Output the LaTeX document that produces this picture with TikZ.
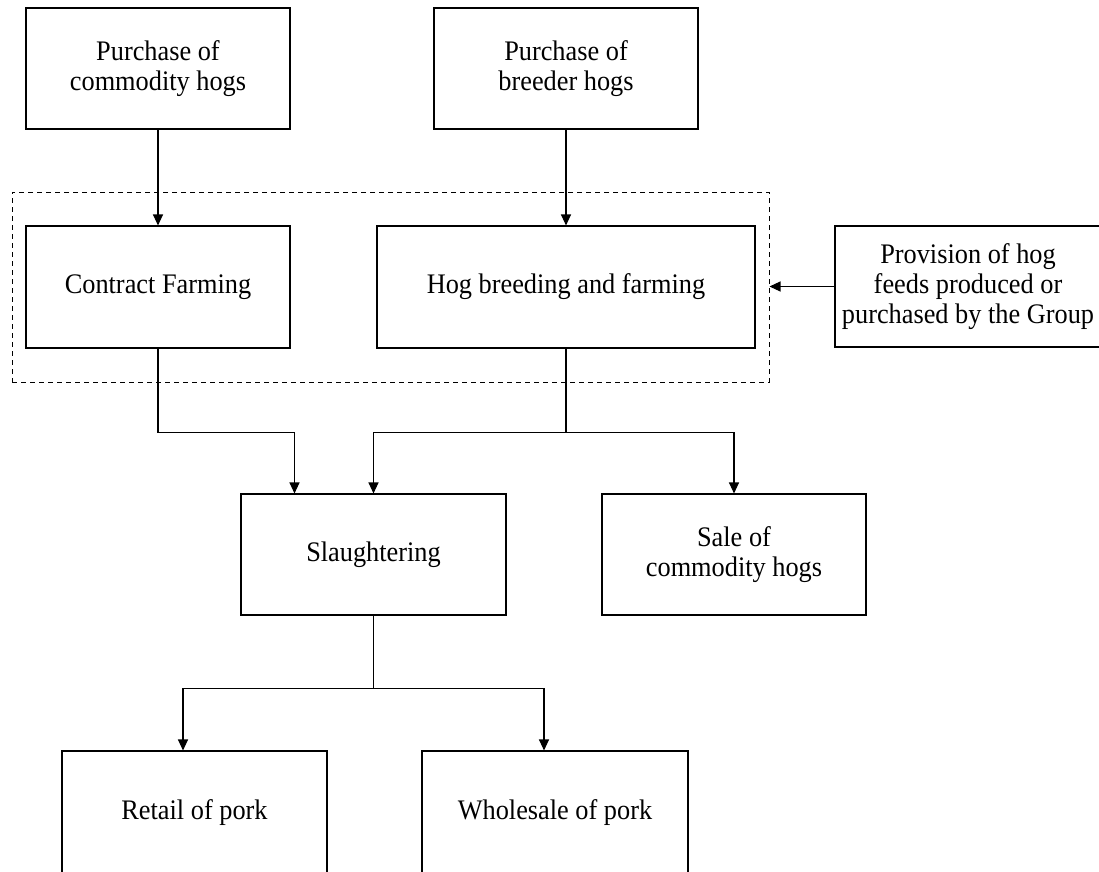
\documentclass[tikz,border=0pt]{standalone}
\usepackage{fontspec}
\setmainfont{Liberation Serif}
\newfontfamily\diagfont[FakeStretch=0.93]{Liberation Serif}
\usetikzlibrary{arrows.meta,calc}
\tikzset{
  box/.style={draw, line width=1.1pt, minimum width=264pt, minimum height=121pt, align=center, inner sep=0pt,
    font=\diagfont\fontsize{28.3}{30}\selectfont},
  arr/.style={line width=1.1pt, -{Triangle[length=11pt,width=10pt]}},
  grpbox/.style={draw, line width=1pt, dash pattern=on 5pt off 4pt, minimum width=757pt, minimum height=190pt, inner sep=0pt}
}
\begin{document}
\begin{tikzpicture}[x=1pt,y=1pt]
\useasboundingbox (0,0) rectangle (1099,-871);
\clip (0,0) rectangle (1099,-871);
\node[box] (pc) at (158,-68.5) {Purchase of\\commodity hogs};
\node[box] (pb) at (566,-68.5) {Purchase of\\breeder hogs};
\node[grpbox] (grp) at (390.5,-287) {};
\node[box, minimum height=122pt] (cf) at (158,-287) {Contract Farming};
\node[box, minimum width=378pt, minimum height=122pt] (hb) at (566,-287) {Hog breeding and farming};
\node[box, minimum width=266pt] (pv) at (968,-286.5) {Provision of hog\\feeds produced or\\purchased by the Group};
\node[box, minimum width=265pt] (sl) at (373.5,-554.5) {Slaughtering};
\node[box] (sa) at (734,-554.5) {Sale of\\commodity hogs};
\node[box, minimum width=265pt, minimum height=124pt] (re) at (194.5,-813) {Retail of pork};
\node[box, minimum width=266pt, minimum height=124pt] (wh) at (555,-813) {Wholesale of pork};
\draw[arr] (pc) -- (cf);
\draw[arr] (pb) -- (hb);
\draw[arr] (pv.west) -- (pv.west -| grp.east);
\draw[arr] (cf.south) -- ++(0,-84) -| ([xshift=-79pt]sl.north);
\draw[arr] (hb.south) -- ++(0,-84) -| (sl.north);
\draw[arr] (hb.south) -- ++(0,-84) -| (sa.north);
\draw[arr] (sl.south) -- ++(0,-73) -| ([xshift=-11.5pt]re.north);
\draw[arr] (sl.south) -- ++(0,-73) -| ([xshift=-11pt]wh.north);
\end{tikzpicture}
\end{document}
